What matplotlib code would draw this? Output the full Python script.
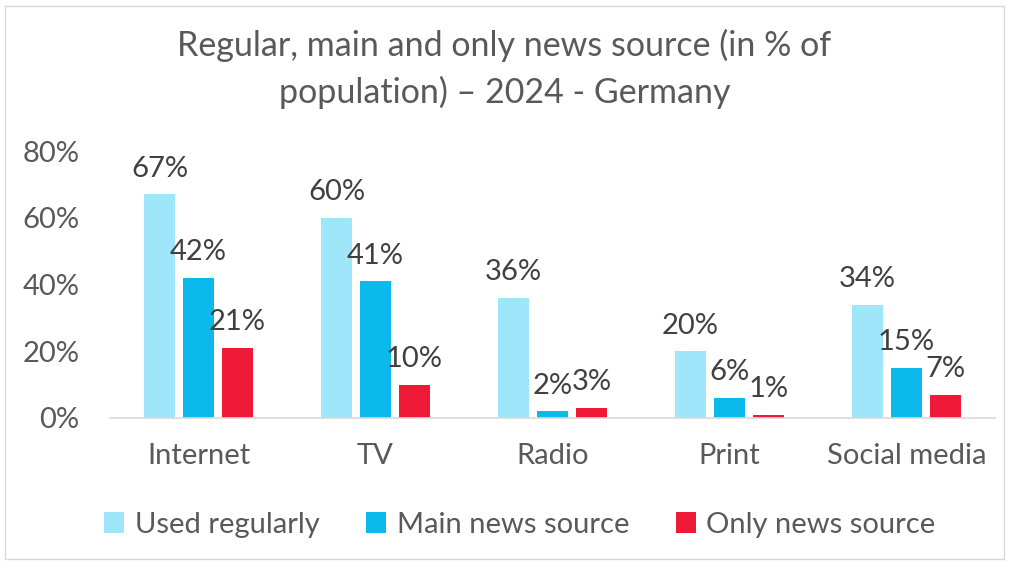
import numpy as np
import matplotlib.pyplot as plt

# Données
categories = ['Internet', 'TV', 'Radio', 'Print', 'Social media']
used_regularly = [67, 60, 36, 20, 34]
main_source = [42, 41, 2, 6, 15]
only_source = [21, 10, 3, 1, 7]
series_names = ['Used regularly', 'Main news source', 'Only news source']
colors = ['#9FE6FA', '#0BB9EC', '#EE1A38']

plt.rcParams['font.family'] = ['Lato', 'DejaVu Sans']

fig = plt.figure(figsize=(10.09, 5.62), dpi=100)
ax = fig.add_axes([110 / 1009, 1 - 418 / 562, 885 / 1009, 267 / 562])

x = np.arange(len(categories))
width = 0.175
step = 0.22
series = [used_regularly, main_source, only_source]

for i, (vals, name, col) in enumerate(zip(series, series_names, colors)):
    pos = x + (i - 1) * step
    bars = ax.bar(pos, vals, width, color=col, label=name)
    for b, v in zip(bars, vals):
        ax.annotate(f'{v}%', (b.get_x() + b.get_width() / 2, v),
                    xytext=(0, 9), textcoords='offset points',
                    ha='center', va='bottom', fontsize=21, color='#404040')

ax.set_xlim(-0.5, len(categories) - 0.5)
ax.set_ylim(0, 80)
ax.set_yticks([0, 20, 40, 60, 80])
ax.set_yticklabels([f'{t}%' for t in [0, 20, 40, 60, 80]])
ax.set_xticks(x)
ax.set_xticklabels(categories)
ax.tick_params(axis='both', length=0, labelsize=21, colors='#595959')
ax.tick_params(axis='x', pad=18)
ax.tick_params(axis='y', pad=22)

for s in ['top', 'right', 'left']:
    ax.spines[s].set_visible(False)
ax.spines['bottom'].set_color('#D9D9D9')
ax.spines['bottom'].set_linewidth(1.2)

fig.text(0.5, 0.948, 'Regular, main and only news source (in % of\npopulation) \u2013 2024 - Germany',
         ha='center', va='top', fontsize=24.5, color='#595959', linespacing=1.5)

ax.legend(loc='center', bbox_to_anchor=(0.463, -0.4), ncol=3, frameon=False,
          fontsize=21, labelcolor='#595959', handlelength=0.7, handleheight=0.7,
          columnspacing=1.6, handletextpad=0.35)

# Cadre gris autour de la figure
fig.add_artist(plt.Rectangle((0.005, 0.005), 0.99, 0.985, transform=fig.transFigure,
                             fill=False, edgecolor='#D9D9D9', linewidth=1))

fig.savefig('out.png', dpi=100)
